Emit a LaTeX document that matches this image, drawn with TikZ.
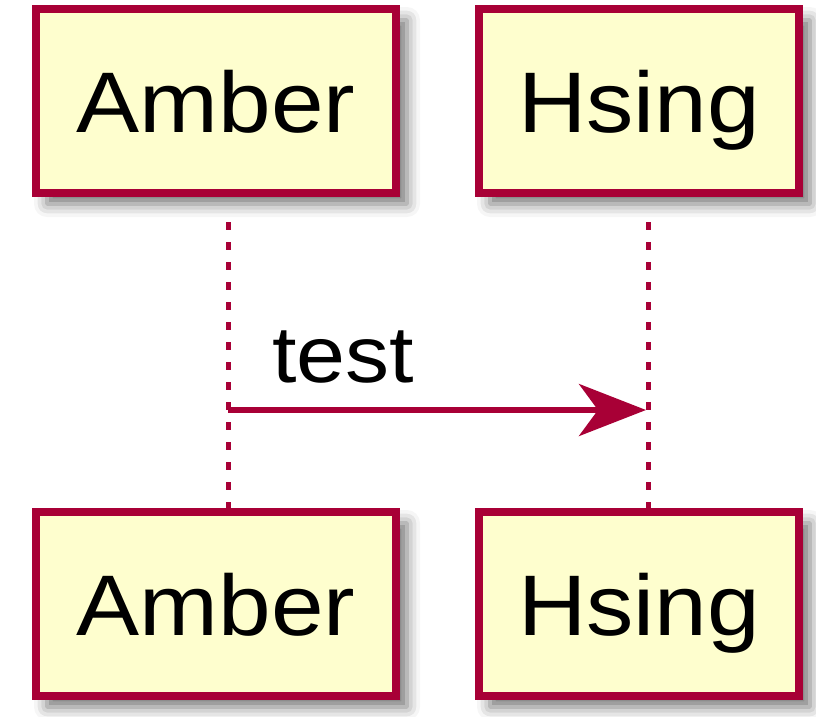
\documentclass[tikz,border=0pt]{standalone}
\usepackage{fontspec}
\newfontfamily\umlfont[FakeStretch=1.1]{Liberation Sans}
\usetikzlibrary{arrows.meta,shadows.blur}
\definecolor{umlred}{HTML}{A80036}
\definecolor{umlfill}{HTML}{FEFECE}

\begin{document}
\begin{tikzpicture}[x=1pt, y=-1pt,
  actor/.style={draw=umlred, line width=8pt, fill=umlfill, minimum height=184pt, inner sep=0pt,
    text height=62pt, text depth=0pt, font=\umlfont\fontsize{86}{100}\selectfont,
    blur shadow={shadow xshift=11pt, shadow yshift=-11pt, shadow blur radius=13pt, shadow opacity=55}},
  lifeline/.style={umlred, line width=5pt, dash pattern=on 8pt off 12pt}]
  \useasboundingbox (0,0) rectangle (816,716);
  % lifelines
  \foreach \n/\x in {amber/228, hsing/648} {
    \coordinate (\n-top) at (\x,222);
    \coordinate (\n-bot) at (\x,508);
    \draw[lifeline] (\n-top) -- (\n-bot);
  }
  % participant boxes, head and foot
  \foreach \n/\x/\w/\t in {amber/216/360/Amber, hsing/639/320/Hsing} {
    \node[actor, minimum width=\w pt] (\n-head) at (\x,101) {\t};
    \node[actor, minimum width=\w pt] (\n-foot) at (\x,604) {\t};
  }
  % message
  \coordinate (amber-msg) at (228,410);
  \coordinate (hsing-msg) at (646,410);
  \draw[umlred, line width=5.5pt, -{Stealth[length=67pt, width=52pt, inset=19pt]}] (amber-msg) -- (hsing-msg);
  \node[anchor=base west, inner sep=0pt, font=\umlfont\fontsize{80}{96}\selectfont] (msg-label) at (272,382) {test};
\end{tikzpicture}
\end{document}
